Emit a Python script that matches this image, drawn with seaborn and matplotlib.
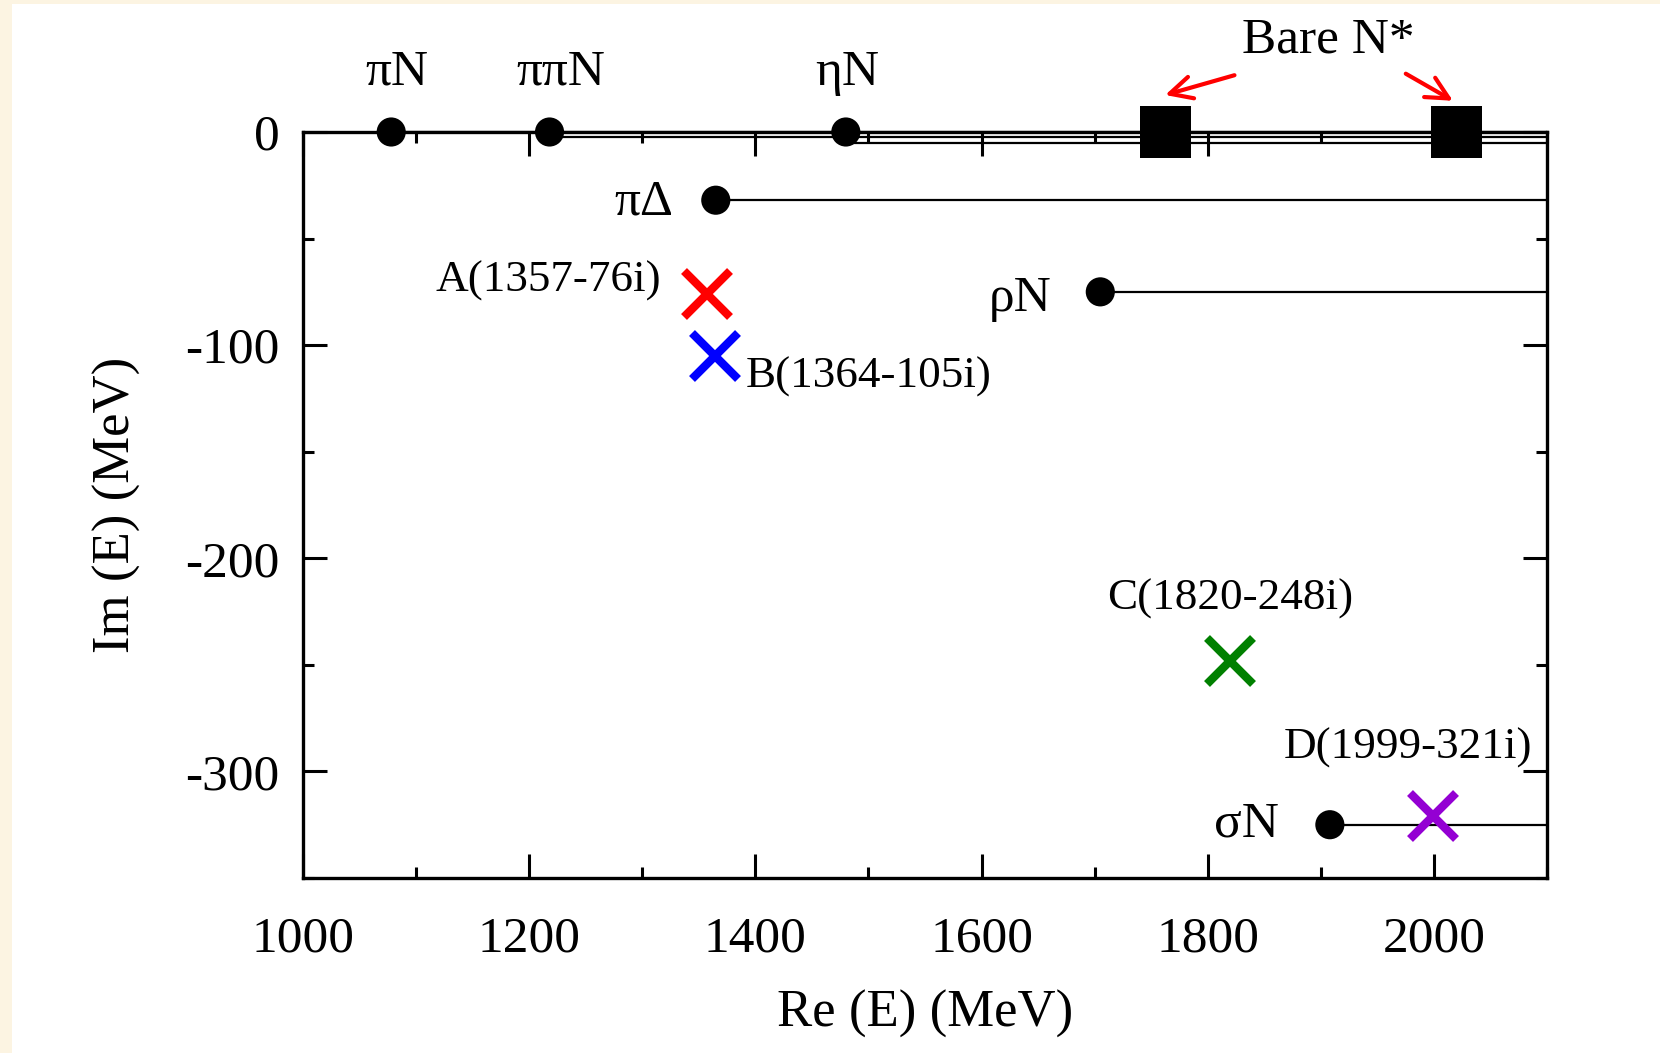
import matplotlib
matplotlib.use("Agg")
import matplotlib.pyplot as plt
from matplotlib.ticker import MultipleLocator
from matplotlib.patches import Rectangle
import pandas as pd
import seaborn as sns

sns.set_theme(style="ticks")
plt.rcParams['font.family'] = ['Liberation Serif', 'DejaVu Serif']
plt.rcParams['axes.unicode_minus'] = False
plt.rcParams['text.color'] = 'black'
plt.rcParams['axes.labelcolor'] = 'black'

# Umbrales de canales (Re, Im) en MeV
thr_names = ["πN", "ππN", "ηN", "πΔ", "ρN", "σN"]
thr_re = [1078, 1218, 1480, 1365, 1705, 1908]
thr_im = [0, 0, 0, -32, -75, -325]
thr_line_im = [0, -2.5, -5, -32, -75, -325]  # las lineas en Im=0 van un poco desplazadas

# Polos
pole_names = ["A", "B", "C", "D"]
pole_re = [1357, 1364, 1820, 1999]
pole_im = [-76, -105, -248, -321]
pole_colors = ["#ff0000", "#0000ff", "#008000", "#9400d3"]

# Estados desnudos N*
bare_re = [1763, 2020]
bare_im = [0, 0]

x_max = 2100

# posiciones de las etiquetas (centro del texto, coordenadas de datos)
thr_label_pos = [(1083, 28), (1228, 28), (1481, 28), (1301, -33), (1634, -78), (1834, -325)]
pole_label_pos = [(1217, -70), (1500, -115), (1820, -219), (1977, -289)]

fig = plt.figure(figsize=(16.6, 10.53), dpi=100, facecolor="#fcf4e2")
fig.patches.append(Rectangle((12 / 1660, 0), 1, 1 - 4 / 1053, transform=fig.transFigure,
                             facecolor="white", edgecolor="none", zorder=-10))
ax = fig.add_axes([303 / 1660, 1 - 878 / 1053, 1244 / 1660, 746 / 1053])
ax.set_facecolor("white")

# lineas horizontales desde cada umbral
for re, im in zip(thr_re, thr_line_im):
    ax.plot([re, x_max], [im, im], color="black", lw=1.6, zorder=2, clip_on=False)

df_thr = pd.DataFrame({"re": thr_re, "im": thr_im, "name": thr_names})
sns.scatterplot(data=df_thr, x="re", y="im", color="black", s=440, edgecolor="none",
                ax=ax, zorder=4, clip_on=False, legend=False)

df_bare = pd.DataFrame({"re": bare_re, "im": bare_im})
sns.scatterplot(data=df_bare, x="re", y="im", color="black", marker="s", s=1350,
                edgecolor="none", ax=ax, zorder=5, clip_on=False, legend=False)

for re, im, c in zip(pole_re, pole_im, pole_colors):
    ax.plot(re, im, marker="x", color=c, markersize=33, mew=6, ls="none", zorder=6)

for name, (tx, ty) in zip(thr_names, thr_label_pos):
    ax.text(tx, ty, name, fontsize=37, ha="center", va="center", clip_on=False)

for name, re, im, (tx, ty) in zip(pole_names, pole_re, pole_im, pole_label_pos):
    ax.text(tx, ty, f"{name}({re}-{-im}i)", fontsize=32.5, ha="center", va="center")

ax.text(1907, 43, "Bare N*", fontsize=37, ha="center", va="center", clip_on=False)
ax.annotate("", xy=(1760, 17), xytext=(1826, 27), annotation_clip=False,
            arrowprops=dict(arrowstyle="->", color="red", lw=3, mutation_scale=40))
ax.annotate("", xy=(2019, 14), xytext=(1973, 28), annotation_clip=False,
            arrowprops=dict(arrowstyle="->", color="red", lw=3, mutation_scale=40))

ax.set_xlim(1000, x_max)
ax.set_ylim(-350, 0)
ax.xaxis.set_major_locator(MultipleLocator(200))
ax.xaxis.set_minor_locator(MultipleLocator(100))
ax.yaxis.set_major_locator(MultipleLocator(100))
ax.yaxis.set_minor_locator(MultipleLocator(50))
ax.tick_params(which="both", direction="in", top=True, right=True, width=2.2, colors="black")
ax.tick_params(which="major", length=17, labelsize=37)
ax.tick_params(which="minor", length=8)
ax.tick_params(axis="x", which="major", pad=27)
ax.tick_params(axis="y", which="major", pad=17)
for s in ax.spines.values():
    s.set_linewidth(2.4)
    s.set_color("black")

ax.set_xlabel("Re (E) (MeV)", fontsize=38, labelpad=20)
ax.set_ylabel("Im (E) (MeV)", fontsize=38, labelpad=32)

fig.savefig("out.png", dpi=100, facecolor=fig.get_facecolor())
